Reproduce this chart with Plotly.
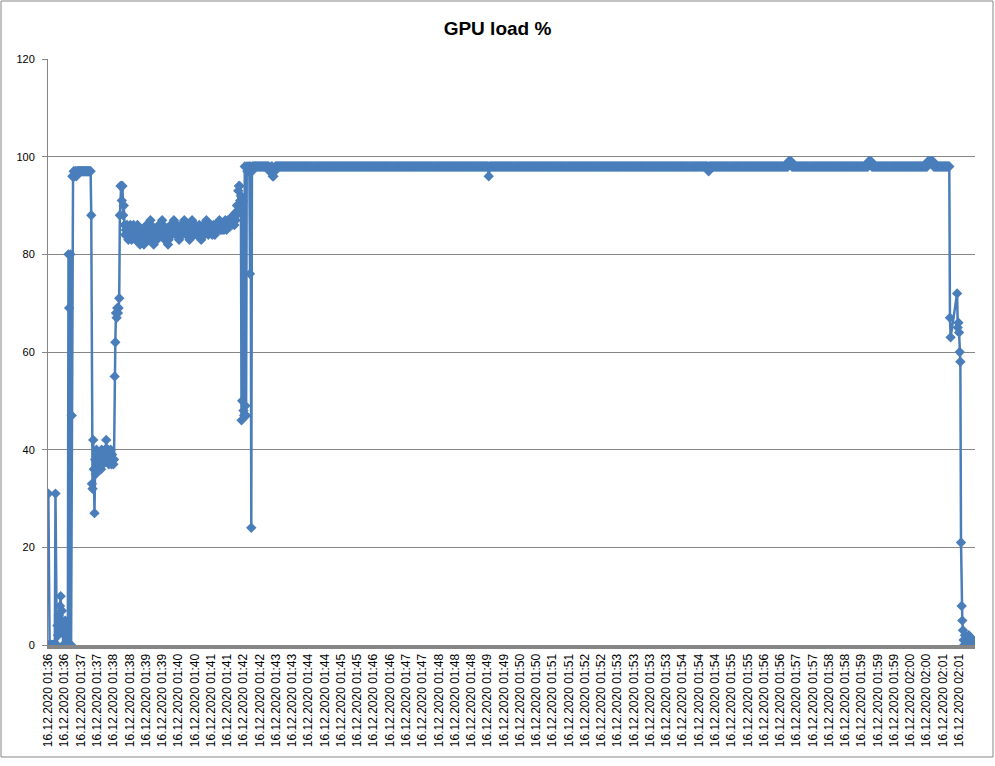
import plotly.graph_objects as go

# ---------------- data ----------------
seg_start = [31] + [0] * 10 + [31, 0] + \
    [0, 4, 2, 6, 3, 8, 10, 5, 7, 3, 0, 4, 2, 5, 0, 3, 0, 0] + \
    [80, 69, 0, 80, 0, 47, 96]
seg_high1 = [96, 97, 96, 97, 97, 96, 97, 97] + [97] * 20 + [88]
seg_low = [33, 32, 42, 36, 27, 38, 35, 40, 37, 36, 39, 38, 37, 39, 36, 40, 38, 37,
           39, 38, 40, 38, 42, 39, 38, 40, 37, 39, 38, 40, 37, 39, 38, 37, 38]
seg_rise = [55, 62, 68, 67, 69, 68, 69, 71, 88, 94, 94, 91, 94, 88, 90, 86, 84]
seg_band = [85, 84, 86, 85, 83, 84, 85, 86, 84, 83,
            84, 85, 86, 85, 84, 83, 84, 85, 86, 85,
            84, 83, 82, 83, 84, 85, 84, 83, 82, 83,
            84, 85, 86, 85, 84, 83, 84, 86, 87, 86,
            85, 84, 83, 82, 83, 84, 85, 84, 83, 84,
            85, 86, 85, 84, 85, 86, 87, 86, 85, 84,
            83, 84, 85, 84, 83, 82, 83, 84, 85, 86,
            85, 84, 85, 86, 87, 86, 85, 84, 85, 86,
            85, 84, 83, 84, 85, 86, 85, 84, 85, 86,
            87, 86, 85, 84, 85, 86, 85, 84, 83, 84,
            85, 86, 87, 86, 85, 84, 85, 86, 85, 84,
            85, 84, 85, 86, 85, 84, 83, 84, 85, 86,
            85, 84, 85, 86, 87, 86, 85, 84, 85, 86,
            85, 86, 85, 84, 85, 86, 85, 84, 85, 86,
            85, 86, 85, 86, 87, 86, 85, 86, 85, 86,
            86, 85, 86, 87, 86, 85, 86, 87, 86, 86,
            87, 86, 87, 86, 87, 88, 87, 86, 87]
seg_jump = [87, 88, 90, 89, 93, 94, 94, 91, 92, 46, 50, 91, 48, 47, 98, 49, 47,
            98, 97, 98, 97, 98, 76, 98, 24, 97]
plateau_values = [98, 97, 98, 96, 97, 98, 96, 98, 97, 98, 99, 98, 99, 98, 99, 98]
plateau_counts = [26, 3, 2, 2, 2, 328, 1, 337, 1, 122, 5, 118, 5, 86, 9, 25]
seg_end = [67, 63] + [None] * 9 + [72, 65, 66, 64, 60, 58, 21, 8, 5, 3] + \
    [1, 0, 2, 0, 1, 0, 0, 1, 2, 1, 0, 0, 1, 0, 0, 1, 0, 0]

label_every = 25
tick_times = ["01:36", "01:36", "01:37", "01:37", "01:38", "01:38", "01:39", "01:39",
              "01:40", "01:40", "01:41", "01:41", "01:42", "01:42", "01:43", "01:43",
              "01:44", "01:44", "01:45", "01:45", "01:46", "01:46", "01:47", "01:47",
              "01:48", "01:48", "01:48", "01:49", "01:49", "01:50", "01:50", "01:51",
              "01:51", "01:52", "01:52", "01:53", "01:53", "01:53",
              "01:53", "01:54", "01:54", "01:54", "01:55", "01:55", "01:56", "01:56",
              "01:57", "01:57", "01:58", "01:58", "01:59", "01:59", "01:59", "02:00",
              "02:00", "02:01", "02:01"]
date_str = "16.12.2020"

# ---------------- build series ----------------
plateau = []
for v, c in zip(plateau_values, plateau_counts):
    plateau += [v] * c
gpu = seg_start + seg_high1 + seg_low + seg_rise + seg_band + seg_jump + plateau + seg_end
idx = list(range(len(gpu)))

tickvals = [i * label_every for i in range(len(tick_times))]
ticktext = [f"{date_str} {t}" for t in tick_times]

BLUE = "#4A7EBB"
GRAY = "#868686"

fig = go.Figure(go.Scatter(
    x=idx, y=gpu, mode="lines+markers", connectgaps=True,
    line=dict(color=BLUE, width=2.5),
    marker=dict(symbol="diamond", size=8, color=BLUE, line=dict(width=0)),
    hoverinfo="skip", showlegend=False))

fig.update_layout(
    width=995, height=766,
    margin=dict(l=48, r=20, t=59, b=121),
    paper_bgcolor="white", plot_bgcolor="white",
    title=dict(text="<b>GPU load %</b>", x=0.5, xanchor="center", y=0.963, yanchor="middle",
               font=dict(family="Liberation Sans", size=19, color="black")),
    font=dict(family="Liberation Sans", color="black"),
    xaxis=dict(range=[-0.5, len(gpu) - 0.5], tickmode="array", tickvals=tickvals,
               ticktext=ticktext, tickangle=-90, tickfont=dict(size=12),
               showgrid=False, zeroline=False, showline=True, linecolor=GRAY,
               linewidth=4, ticks="", layer="below traces"),
    yaxis=dict(range=[0, 120], tickmode="array", tickvals=[0, 20, 40, 60, 80, 100, 120],
               tickfont=dict(size=11), showgrid=True, gridcolor=GRAY, gridwidth=1,
               zeroline=False, showline=True, linecolor=GRAY, linewidth=1,
               ticks="outside", ticklen=5, tickcolor=GRAY, ticklabelstandoff=5,
               layer="below traces"),
    shapes=[dict(type="rect", xref="paper", yref="paper",
                 x0=(1 - 48) / 927, x1=(993 - 48) / 927,
                 y0=(645 - 757) / 586, y1=(645 - 1) / 586,
                 line=dict(color=GRAY, width=1), fillcolor="rgba(0,0,0,0)", layer="below")],
)

fig.write_html("out.html", config={"displayModeBar": False},
               post_script="document.body.style.margin='0px';")
